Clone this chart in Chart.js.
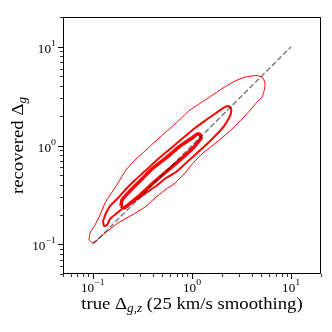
<!DOCTYPE html>
<html>
<head>
<meta charset="utf-8">
<script src="https://cdn.jsdelivr.net/npm/chart.js@4.4.0/dist/chart.umd.min.js"></script>
<style>
  html, body { margin: 0; padding: 0; background: #fff; }
  canvas { display: block; }
</style>
</head>
<body>
<canvas id="chart" width="332" height="332"></canvas>
<script>
// axis ranges and ticks
const xRange = [0.05, 20];
const yRange = [0.05, 20];
const majorTicks = [0.1, 1, 10];
const majorExps = ["\u22121", "0", "1"];
const minorTicks = [0.05, 0.06, 0.07, 0.08, 0.09, 0.2, 0.3, 0.4, 0.5, 0.6, 0.7, 0.8, 0.9,
  2, 3, 4, 5, 6, 7, 8, 9, 20];

// one-to-one reference line
const diagX = [0.1, 10];
const diagY = [0.1, 10];

// density contours (outer, middle, inner)
const outerX = [0.0914, 0.0936, 0.1051, 0.1181, 0.1327, 0.149, 0.1794, 0.216, 0.2661, 0.3437,
  0.4758, 0.6741, 0.9548, 1.353, 2.054, 2.715, 3.424, 4.525, 5.201, 5.449, 5.325, 5.083, 4.525,
  4.029, 3.269, 2.592, 2.054, 1.629, 1.291, 1.024, 0.850, 0.6741, 0.5341, 0.4235, 0.3357,
  0.2482, 0.1794, 0.1327, 0.1076, 0.0982, 0.0914];
const outerY = [0.1104, 0.130, 0.1567, 0.1978, 0.2616, 0.3151, 0.417, 0.5645, 0.7126, 0.900,
  1.218, 1.649, 2.285, 2.885, 3.815, 4.492, 4.931, 5.107, 4.818, 4.188, 3.557, 3.094, 2.754,
  2.394, 1.896, 1.502, 1.218, 1.011, 0.839, 0.6645, 0.5264, 0.417, 0.354, 0.2938, 0.2383,
  0.1978, 0.1641, 0.130, 0.1079, 0.1042, 0.1104];

const middleX = [0.1266, 0.1358, 0.1489, 0.1794, 0.2110, 0.2602, 0.3357, 0.4436, 0.6002, 0.8116,
  1.072, 1.384, 1.746, 2.054, 2.307, 2.474, 2.474, 2.361, 2.102, 1.746, 1.417, 1.097, 0.8700,
  0.6899, 0.5467, 0.4335, 0.3437, 0.2725, 0.2160, 0.1752, 0.1489, 0.1389, 0.1296, 0.1266];
const middleY = [0.1719, 0.2072, 0.2439, 0.2938, 0.3540, 0.4368, 0.5514, 0.7126, 0.9209, 1.190,
  1.502, 1.810, 2.131, 2.394, 2.508, 2.394, 2.131, 1.896, 1.574, 1.276, 1.035, 0.8196, 0.6645,
  0.5388, 0.4685, 0.3888, 0.3303, 0.2805, 0.2439, 0.2072, 0.1802, 0.1567, 0.1531, 0.1719];

const innerX = [0.1923, 0.1968, 0.2263, 0.2989, 0.4044, 0.5596, 0.7568, 1.000, 1.123, 1.204,
  1.233, 1.150, 1.024, 0.7568, 0.5596, 0.4044, 0.2989, 0.2263, 0.2062, 0.1923];
const innerY = [0.2439, 0.2805, 0.3303, 0.4368, 0.5915, 0.7643, 0.9874, 1.190, 1.306, 1.291,
  1.190, 1.084, 0.9426, 0.7126, 0.5514, 0.4170, 0.3151, 0.2496, 0.2328, 0.2439];

const xTitle = [
  { text: "true \u0394", size: 17 },
  { text: "g,z", size: 12, italic: true, dy: 3 },
  { text: " (25 km/s smoothing)", size: 17 }
];
const yTitle = [
  { text: "recovered \u0394", size: 17 },
  { text: "g", size: 12, italic: true, dy: 3 }
];

const FONT = '"Liberation Serif", "Times New Roman", serif';
const zip = (xs, ys) => xs.map((x, i) => ({ x, y: ys[i] }));

function partFont(p) {
  return (p.italic ? "italic " : "") + p.size + "px " + FONT;
}

function drawRich(ctx, parts, x, y, align, sx) {
  let w = 0;
  parts.forEach(p => { ctx.font = partFont(p); w += ctx.measureText(p.text).width; });
  w *= sx;
  const start = align === "center" ? x - w / 2 : align === "right" ? x - w : x;
  ctx.save();
  ctx.translate(start, y);
  ctx.scale(sx, 1);
  let cx = 0;
  parts.forEach(p => {
    ctx.font = partFont(p);
    ctx.fillText(p.text, cx, p.dy || 0);
    cx += ctx.measureText(p.text).width;
  });
  ctx.restore();
}

// frame, ticks, tick labels and axis titles
const axesPlugin = {
  id: "axesDecor",
  afterDraw(chart) {
    const { ctx, chartArea: a, scales } = chart;
    const xs = scales.x, ys = scales.y;
    ctx.save();
    ctx.strokeStyle = "#000";
    ctx.fillStyle = "#000";
    ctx.lineWidth = 1;
    ctx.strokeRect(a.left + 0.5, a.top + 0.5, a.right - a.left - 1, a.bottom - a.top - 1);

    const tick = (vals, len, w) => {
      ctx.lineWidth = w;
      vals.forEach(v => {
        const px = Math.round(xs.getPixelForValue(v)) + 0.5;
        ctx.beginPath(); ctx.moveTo(px, a.bottom); ctx.lineTo(px, a.bottom + len); ctx.stroke();
        const py = Math.round(ys.getPixelForValue(v)) + 0.5;
        ctx.beginPath(); ctx.moveTo(a.left, py); ctx.lineTo(a.left - len, py); ctx.stroke();
      });
    };
    tick(majorTicks, 5, 1);
    tick(minorTicks, 3, 0.8);

    ctx.textBaseline = "alphabetic";
    ctx.textAlign = "left";
    majorTicks.forEach((v, i) => {
      const parts = [{ text: "10", size: 12 }, { text: majorExps[i], size: 9, dy: -7 }];
      drawRich(ctx, parts, xs.getPixelForValue(v), a.bottom + 18, "center", 1.1);
      drawRich(ctx, parts, a.left - 7, ys.getPixelForValue(v) + 6, "right", 1.1);
    });

    drawRich(ctx, xTitle, (a.left + a.right) / 2, a.bottom + 35, "center", 1.1);
    ctx.translate(a.left - 40, (a.top + a.bottom) / 2);
    ctx.rotate(-Math.PI / 2);
    drawRich(ctx, yTitle, 0, 0, "center", 1.1);
    ctx.restore();
  }
};

const lineSet = (data, width, order) => ({
  data, order, showLine: true, fill: false,
  borderColor: "#ff0000", borderWidth: width,
  pointRadius: 0, tension: 0.2
});

new Chart(document.getElementById("chart"), {
  type: "scatter",
  data: {
    datasets: [
      {
        data: zip(diagX, diagY), order: 0, showLine: true, fill: false,
        borderColor: "rgba(0,0,0,0.5)", borderWidth: 1.5, borderDash: [5.5, 2.4],
        pointRadius: 0
      },
      lineSet(zip(outerX, outerY), 1, 3),
      lineSet(zip(middleX, middleY), 2, 2),
      lineSet(zip(innerX, innerY), 3.5, 1)
    ]
  },
  options: {
    responsive: false,
    animation: false,
    devicePixelRatio: 1,
    layout: { padding: { left: 0, top: 17, right: 11, bottom: 0 } },
    plugins: { legend: { display: false }, tooltip: { enabled: false } },
    scales: {
      x: {
        type: "logarithmic", min: xRange[0], max: xRange[1],
        grid: { display: false }, border: { display: false },
        ticks: { display: false },
        afterFit: s => { s.height = 58; }
      },
      y: {
        type: "logarithmic", min: yRange[0], max: yRange[1],
        grid: { display: false }, border: { display: false },
        ticks: { display: false },
        afterFit: s => { s.width = 63; }
      }
    }
  },
  plugins: [axesPlugin]
});
</script>
</body>
</html>
